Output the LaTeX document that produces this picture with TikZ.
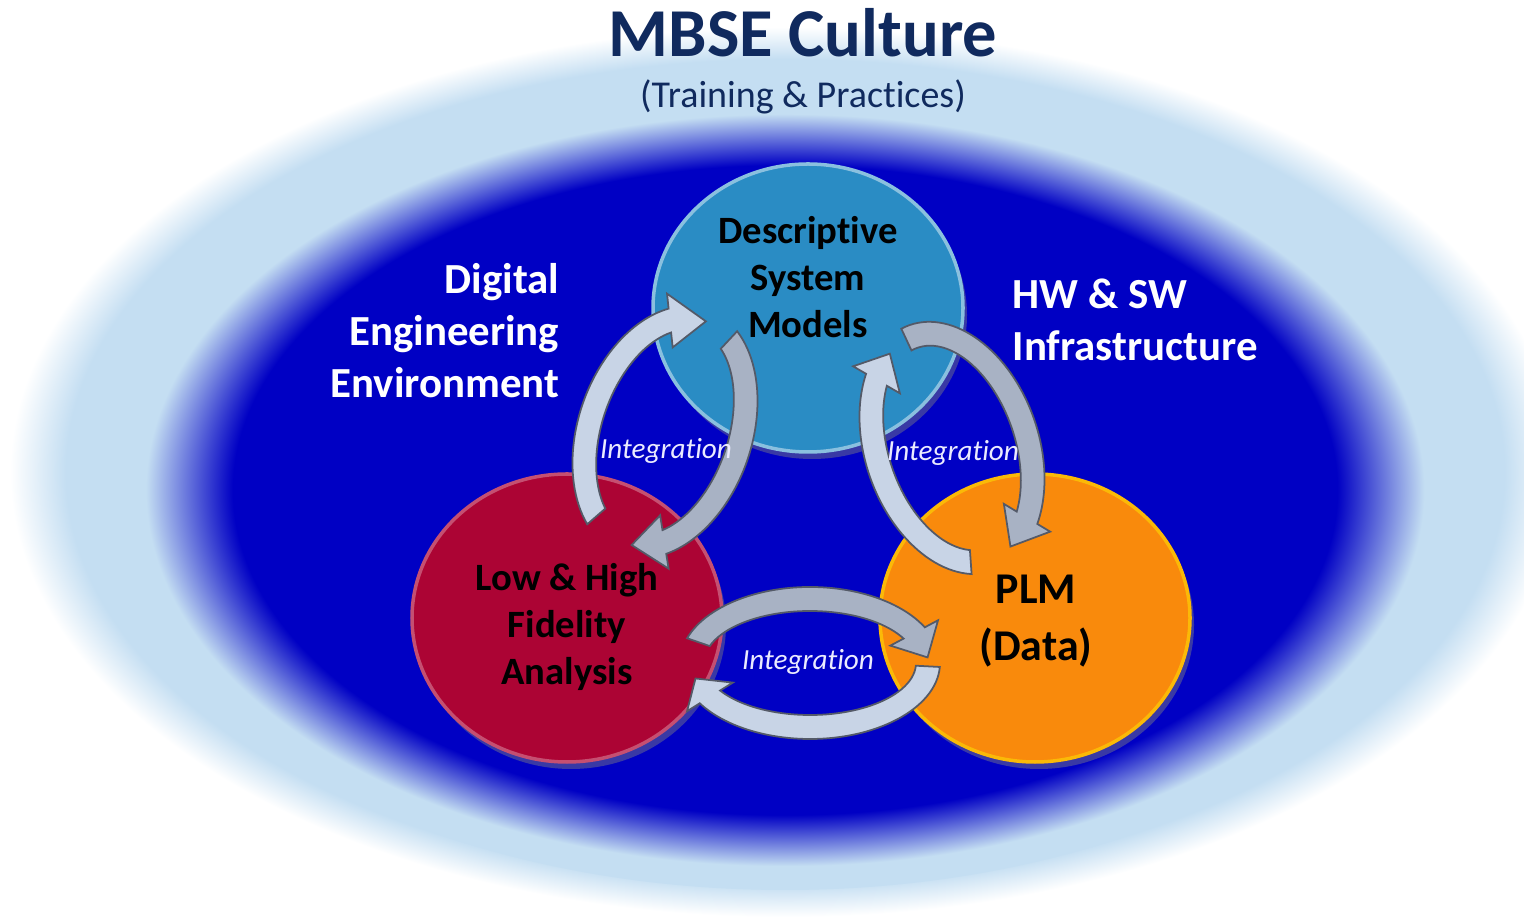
\documentclass[tikz,border=0pt]{standalone}
\usepackage{fontspec}
\setmainfont{Carlito}[Ligatures=NoCommon]
\usetikzlibrary{shapes.geometric,shadows}

\definecolor{navy}{RGB}{16,42,94}
\definecolor{paleblue}{RGB}{196,222,242}
\definecolor{deepblue}{RGB}{0,0,196}
\definecolor{dsmblue}{RGB}{42,140,196}
\definecolor{fidred}{RGB}{172,4,52}
\definecolor{plmorange}{RGB}{249,138,12}
\definecolor{arrowpale}{RGB}{200,212,230}
\definecolor{arrowgrey}{RGB}{168,178,196}
\definecolor{arrowedge}{RGB}{84,90,104}

\pgfdeclareradialshading{culture}{\pgfpoint{0bp}{0bp}}{color(0bp)=(paleblue); color(23.2bp)=(paleblue); color(25bp)=(white); color(50bp)=(white)}
\pgfdeclareradialshading{environment}{\pgfpoint{0bp}{0bp}}{color(0bp)=(deepblue); color(20.3bp)=(deepblue); color(23.5bp)=(paleblue); color(50bp)=(paleblue)}

\newcommand{\aw}{0.12}
\newcommand{\ah}{0.27}
% curved block arrow: x radius, y radius, tail angle, head angle, tip angle, style
\newcommand{\intarrow}[6]{%
  \filldraw[#6] ({(#1+\aw)*cos(#3)},{(#2+\aw)*sin(#3)})
    arc[start angle=#3, end angle=#4, x radius=#1+\aw, y radius=#2+\aw]
    -- ({(#1+\ah)*cos(#4)},{(#2+\ah)*sin(#4)}) -- ({#1*cos(#5)},{#2*sin(#5)})
    -- ({(#1-\ah)*cos(#4)},{(#2-\ah)*sin(#4)}) -- ({(#1-\aw)*cos(#4)},{(#2-\aw)*sin(#4)})
    arc[start angle=#4, end angle=#3, x radius=#1-\aw, y radius=#2-\aw] -- cycle;}

\begin{document}
\begin{tikzpicture}[circ/.style={ellipse,minimum width=3.1cm,minimum height=2.88cm,line width=1pt,drop shadow={opacity=0.45,shadow xshift=0.04cm,shadow yshift=-0.07cm}},
    boxtext/.style={align=center,text=black,font=\fontsize{11}{13.4}\selectfont\bfseries},
    sidetext/.style={text=white,inner sep=0pt,font=\fontsize{12.2}{14.8}\selectfont\bfseries},
    integ/.style={text=white!92!blue,font=\fontsize{8.3}{10}\selectfont\itshape},
    palearrow/.style={fill=arrowpale,draw=arrowedge,line width=0.5pt},
    greyarrow/.style={fill=arrowgrey,draw=arrowedge,line width=0.5pt}]
            \clip (0,0) rectangle (15.24,-9.22);
            \fill[white] (0,0) rectangle (15.24,-9.22);
            \shade[shading=culture] (7.85,-4.72) ellipse [x radius=7.75,y radius=4.45];
            \shade[shading=environment] (7.85,-4.90) ellipse [x radius=6.8,y radius=4.0];

            \node[text=navy,font=\fontsize{19.5}{23}\selectfont\bfseries] (title) at (8.03,-0.33) {MBSE Culture};
            \node[text=navy,font=\fontsize{10.8}{13}\selectfont] (subtitle) at (8.03,-0.97) {(Training \& Practices)};

            \node[sidetext,align=right,anchor=east] (dee) at (5.60,-3.31) {Digital\\Engineering\\Environment};
            \node[sidetext,align=left,anchor=west] (infra) at (10.12,-3.20) {HW \& SW\\Infrastructure};

            \node[circ,fill=dsmblue,draw=dsmblue!55!white] (dsm) at (8.08,-3.08) {};
            \node[circ,fill=fidred,draw=fidred!70!white] (lhf) at (5.67,-6.18) {};
            \node[circ,fill=plmorange,draw=plmorange!60!yellow] (plm) at (10.35,-6.18) {};

            \node[boxtext] (dsmtext) at (8.08,-2.77) {Descriptive\\System\\Models};
            \node[boxtext] (lhftext) at (5.67,-6.27) {Low \& High\\Fidelity\\Analysis};
            \node[boxtext,font=\fontsize{12.5}{16}\selectfont\bfseries] (plmtext) at (10.36,-6.21) {PLM\\(Data)};

            \coordinate (leftloop) at (6.65,-4.32);
            \coordinate (rightloop) at (9.52,-4.48);
            \coordinate (lowloop) at (8.10,-6.63);
            \begin{scope}[shift={(leftloop)},rotate=-19]
              \intarrow{0.75}{1.18}{240}{115}{88}{palearrow}
              \intarrow{0.75}{1.18}{66}{-62}{-86}{greyarrow}
            \end{scope}
            \begin{scope}[shift={(rightloop)},rotate=19]
              \intarrow{0.75}{1.18}{255}{131}{112}{palearrow}
              \intarrow{0.75}{1.18}{96}{-50}{-72}{greyarrow}
            \end{scope}
            \begin{scope}[shift={(lowloop)}]
              \intarrow{1.18}{0.64}{161}{28}{5}{greyarrow}
              \intarrow{1.18}{0.64}{-3}{-148}{-166}{palearrow}
            \end{scope}

            \node[integ] (intleft) at (6.66,-4.51) {Integration};
            \node[integ] (intright) at (9.53,-4.53) {Integration};
            \node[integ] (intlow) at (8.08,-6.62) {Integration};
          \end{tikzpicture}
\end{document}
